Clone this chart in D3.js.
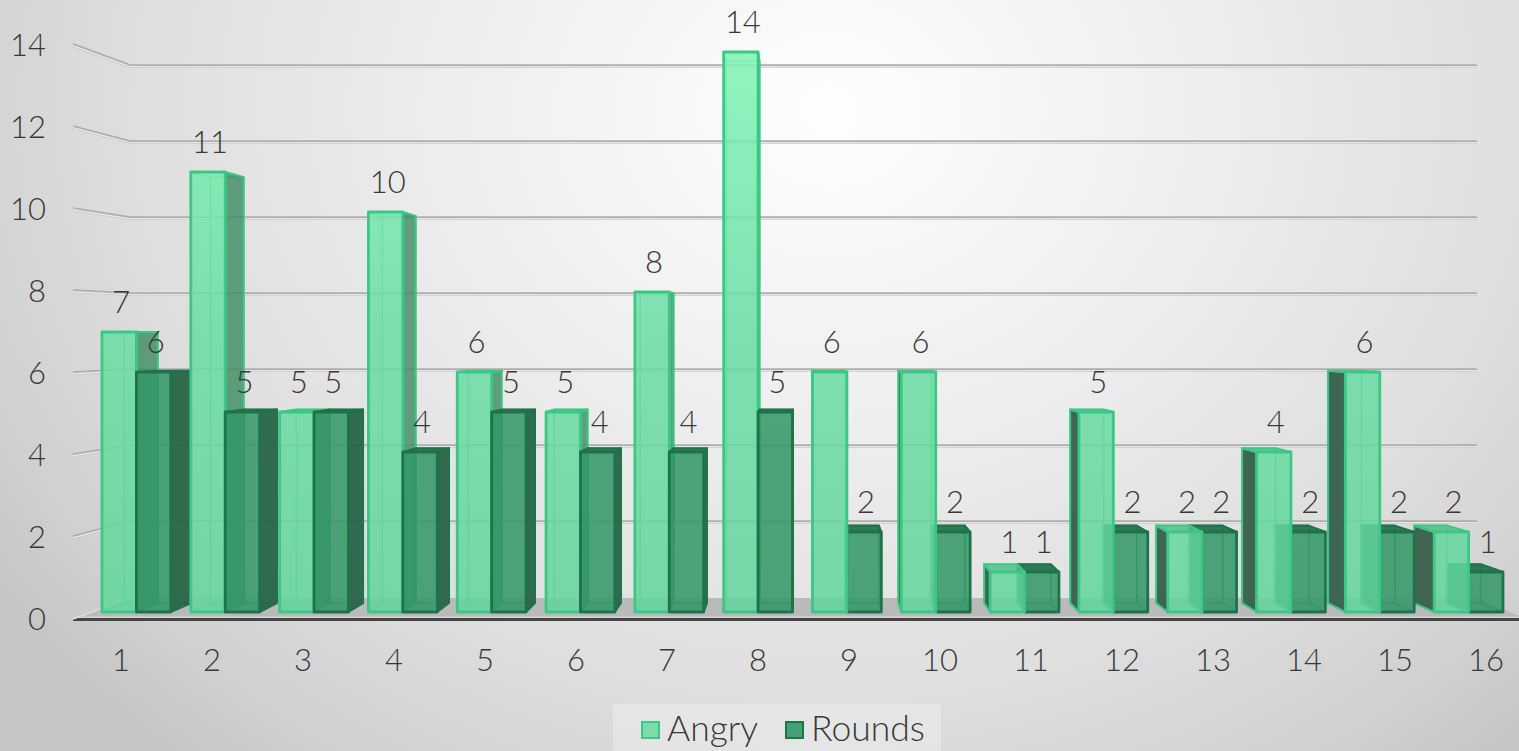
<!DOCTYPE html>
<html>
<head>
<meta charset="utf-8">
<script src="https://cdn.jsdelivr.net/npm/d3@7"></script>
<style>
  html, body { margin: 0; padding: 0; background: #d8d8d8; overflow: hidden; }
  svg { display: block; }
  text { font-family: Lato, "Open Sans", sans-serif; font-weight: 300; fill: #383838; }
</style>
</head>
<body>
<svg id="chart" width="1519" height="751"></svg>
<script>
// Episode data
const categories = ["1","2","3","4","5","6","7","8","9","10","11","12","13","14","15","16"];
const angry  = [7, 11, 5, 10, 6, 5, 8, 14, 6, 6, 1, 5, 2, 4, 6, 2];
const rounds = [6, 5, 5, 4, 5, 4, 4, 5, 2, 2, 1, 2, 2, 2, 2, 1];
const valueTicks = [0, 2, 4, 6, 8, 10, 12, 14];
const seriesNames = ["Angry", "Rounds"];

const W = 1519, H = 751;
const svg = d3.select("#chart");

// Perspective: everything recedes toward one vanishing point
const vanish = { x: 805, y: 332 };
const depthRatio = 0.968;
const recede = (x, y, r) => [vanish.x + (x - vanish.x) * r, vanish.y + (y - vanish.y) * r];

// Scales for the plane of the bar fronts, the back wall and the front of the left wall
const xBand = d3.scaleBand().domain(categories).range([102, 1503]).paddingInner(0.225);
const xSeries = d3.scaleBand().domain(seriesNames).range([0, xBand.bandwidth()]);
const yFront = d3.scaleLinear().domain([0, 14]).range([612, 52]);
const yBack = d3.scaleLinear().domain([0, 14]).range([598, 66]);
const yWall = d3.scaleLinear().domain([0, 14]).range([619, 45]);
const xLabels = d3.scalePoint().domain(categories).range([121, 1486]);
const wallLeft = 130, wallRight = 1477, frontLeft = 73, frontRight = 1526;

// Backdrop
const defs = svg.append("defs");
const bg = defs.append("radialGradient").attr("id", "bg")
  .attr("gradientUnits", "userSpaceOnUse")
  .attr("cx", 0).attr("cy", 0).attr("r", 1000)
  .attr("gradientTransform", "translate(830,110) scale(1,0.85)");
[[0, "#fefefe"], [0.35, "#efefef"], [0.7, "#dedede"], [0.9, "#d0d0d0"], [1, "#c6c6c6"]]
  .forEach(([o, c]) => bg.append("stop").attr("offset", o).attr("stop-color", c));
svg.append("rect").attr("width", W).attr("height", H).attr("fill", "url(#bg)");

// Lighting on the pale bars: brighter the higher they reach
const angryLight = defs.append("linearGradient").attr("id", "angryFront")
  .attr("gradientUnits", "userSpaceOnUse")
  .attr("x1", 0).attr("x2", 0).attr("y1", yFront(14)).attr("y2", yFront(0));
[[0, "#80f5b6"], [0.5, "#69dda3"], [1, "#60d59a"]]
  .forEach(([o, c]) => angryLight.append("stop").attr("offset", o).attr("stop-color", c).attr("stop-opacity", 0.8));

// Floor
svg.append("polygon")
  .attr("points", [[frontLeft, yWall(0)], [wallLeft, yBack(0)], [wallRight, yBack(0)], [frontRight, yWall(0)]].join(" "))
  .attr("fill", "#bababa");
svg.append("line")
  .attr("x1", frontLeft).attr("x2", W).attr("y1", yWall(0) - 1.5).attr("y2", yWall(0) - 1.5)
  .attr("stroke", "#d4d4d4").attr("stroke-width", 2);
svg.append("line")
  .attr("x1", frontLeft).attr("x2", W).attr("y1", yWall(0) + 0.5).attr("y2", yWall(0) + 0.5)
  .attr("stroke", "#454545").attr("stroke-width", 3);

// Gridlines on the back wall and the left wall, drawn as small tubes
const grid = svg.append("g");
valueTicks.filter(v => v > 0).forEach(v => {
  const path = d3.line()([[frontLeft, yWall(v)], [wallLeft, yBack(v)], [wallRight, yBack(v)]]);
  grid.append("path").attr("d", path).attr("fill", "none").attr("stroke", "#adadad").attr("stroke-width", 3.6);
  grid.append("path").attr("d", path).attr("fill", "none").attr("stroke", "#e8e8e8").attr("stroke-width", 1.5)
    .attr("transform", "translate(0,0.8)");
});
valueTicks.filter(v => v === 0).forEach(v => {
  grid.append("line").attr("x1", frontLeft).attr("y1", yWall(v)).attr("x2", wallLeft).attr("y2", yBack(v))
    .attr("stroke", "#dcdcdc").attr("stroke-width", 1.5);
});

// Face colours per series
const style = {
  Angry: {
    front: "url(#angryFront)", inner: "rgba(100,220,160,0.22)",
    right: "rgba(60,135,95,0.76)", left: "rgba(58,98,78,0.97)", top: "rgba(80,190,135,0.8)",
    stroke: "#3cc785", innerStroke: "rgba(70,205,140,0.55)", swatch: "#7bdcaa"
  },
  Rounds: {
    front: "rgba(52,152,104,0.82)", inner: "rgba(40,140,90,0.25)",
    right: "rgba(40,100,70,0.93)", left: "rgba(40,100,70,0.93)", top: "rgba(36,115,75,0.92)",
    stroke: "#1f7349", innerStroke: "rgba(40,135,90,0.65)", swatch: "#45a175"
  }
};

// Flatten the two series and paint the bars farthest from the vanishing point first
const marks = [];
categories.forEach((c, i) => {
  [["Angry", angry[i]], ["Rounds", rounds[i]]].forEach(([name, value]) => {
    const x0 = xBand(c) + xSeries(name);
    marks.push({ c, name, value, x0, x1: x0 + xSeries.bandwidth() });
  });
});
marks.sort((a, b) =>
  Math.abs((b.x0 + b.x1) / 2 - vanish.x) - Math.abs((a.x0 + a.x1) / 2 - vanish.x));

const poly = (g, pts, fill, stroke, sw) => g.append("polygon")
  .attr("points", pts.join(" ")).attr("fill", fill)
  .attr("stroke", stroke).attr("stroke-width", sw).attr("stroke-linejoin", "round");

const bars = svg.append("g");
marks.forEach(m => {
  const s = style[m.name];
  const g = bars.append("g");
  const yb = yFront(0), yt = yFront(m.value);
  const fbl = [m.x0, yb], fbr = [m.x1, yb], ftl = [m.x0, yt], ftr = [m.x1, yt];
  const bbl = recede(m.x0, yb, depthRatio), bbr = recede(m.x1, yb, depthRatio);
  const btl = recede(m.x0, yt, depthRatio), btr = recede(m.x1, yt, depthRatio);

  // Inner faces seen through the translucent walls
  poly(g, [bbl, bbr, fbr, fbl], s.inner, s.innerStroke, 1);
  poly(g, [bbl, bbr, btr, btl], s.inner, s.innerStroke, 1.5);
  if (m.x1 > vanish.x) poly(g, [fbr, bbr, btr, ftr], s.inner, s.innerStroke, 1.5);
  if (m.x0 < vanish.x) poly(g, [fbl, bbl, btl, ftl], s.inner, s.innerStroke, 1.5);
  if (yt < vanish.y) poly(g, [ftl, ftr, btr, btl], s.inner, s.innerStroke, 1);

  // Outer faces that face the viewer
  if (m.x1 < vanish.x) poly(g, [fbr, bbr, btr, ftr], s.right, s.stroke, 2);
  if (m.x0 > vanish.x) poly(g, [fbl, bbl, btl, ftl], s.left, s.stroke, 2);
  if (yt > vanish.y) poly(g, [ftl, ftr, btr, btl], s.top, s.stroke, 2);
  poly(g, [fbl, fbr, ftr, ftl], s.front, s.stroke, 2.8);
});

// Data labels
const labels = svg.append("g").attr("font-size", 31).attr("text-anchor", "middle");
marks.forEach(m => {
  labels.append("text")
    .attr("x", (m.x0 + m.x1) / 2 + 2)
    .attr("y", yFront(m.value) - 19)
    .text(m.value);
});

// Value axis labels
svg.append("g").attr("font-size", 31).attr("text-anchor", "end")
  .selectAll("text").data(valueTicks).join("text")
  .attr("x", 46).attr("y", d => yWall(d) + 11).text(d => d);

// Category axis labels
svg.append("g").attr("font-size", 31).attr("text-anchor", "middle")
  .selectAll("text").data(categories).join("text")
  .attr("x", d => xLabels(d)).attr("y", 671).text(d => d);

// Legend
const legend = svg.append("g");
legend.append("rect").attr("x", 613).attr("y", 704).attr("width", 328).attr("height", 47)
  .attr("fill", "#ffffff").attr("fill-opacity", 0.28);
const legendSwatchX = d3.scaleOrdinal().domain(seriesNames).range([642, 786]);
seriesNames.forEach(name => {
  legend.append("rect").attr("x", legendSwatchX(name)).attr("y", 722).attr("width", 17).attr("height", 16)
    .attr("fill", style[name].swatch).attr("stroke", style[name].stroke).attr("stroke-width", 2);
  legend.append("text").attr("x", legendSwatchX(name) + 25).attr("y", 741)
    .attr("font-size", 35.5).text(name);
});
</script>
</body>
</html>
